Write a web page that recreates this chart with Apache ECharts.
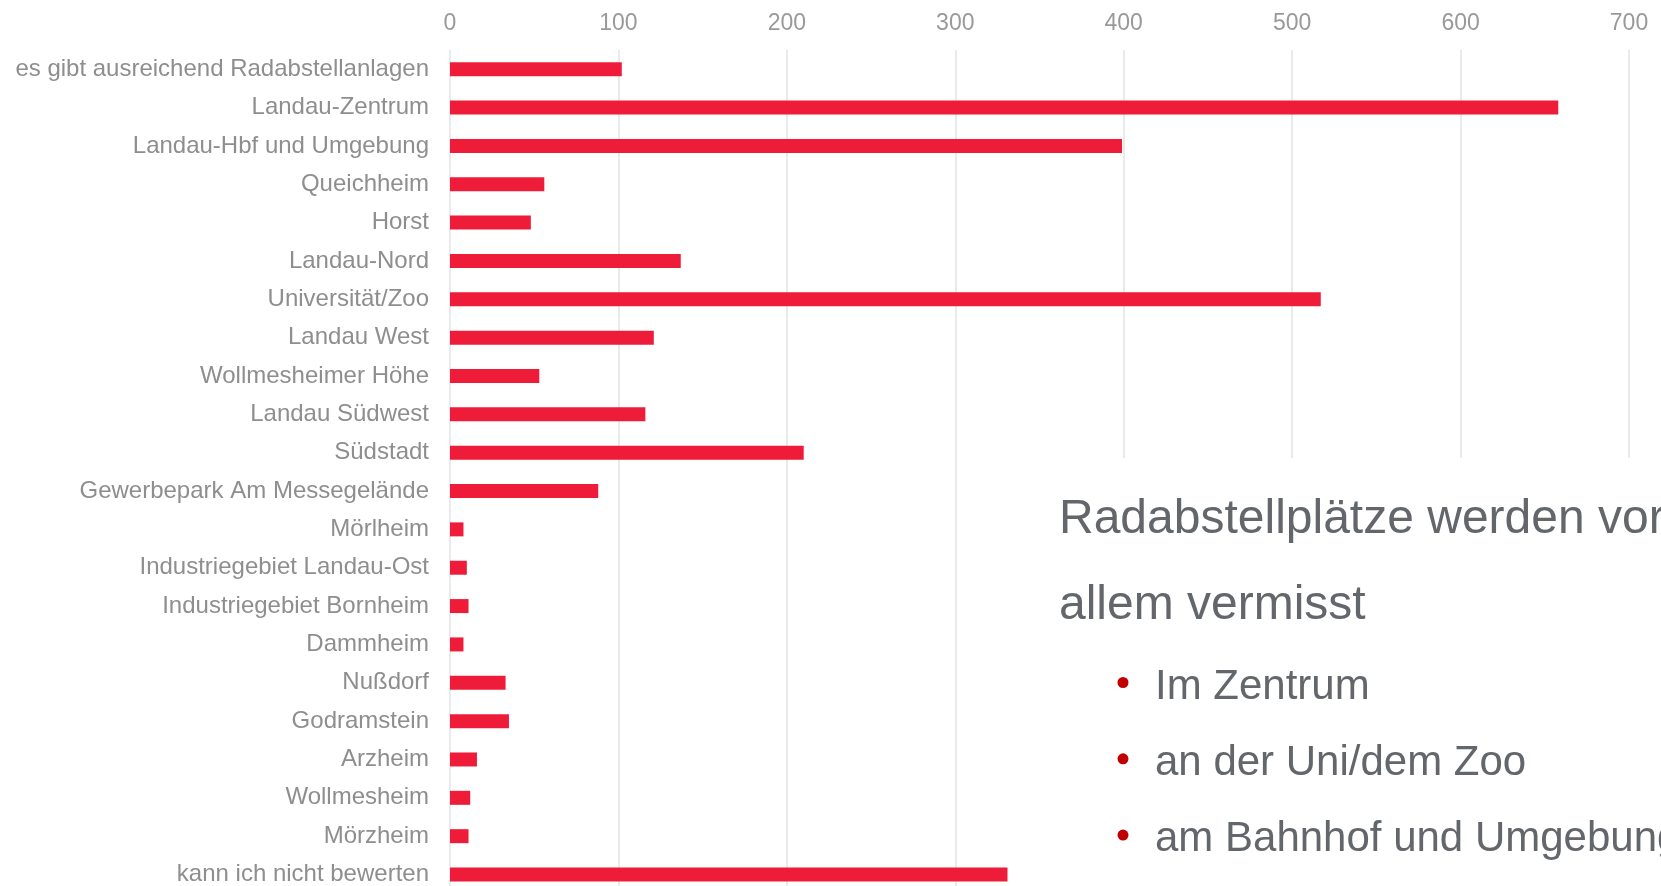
<!DOCTYPE html>
<html>
<head>
<meta charset="utf-8">
<script src="https://cdn.jsdelivr.net/npm/echarts@6/dist/echarts.min.js"></script>
<style>
  html, body { margin: 0; padding: 0; background: #fff; overflow: hidden; }
  #chart { width: 1661px; height: 900px; }
</style>
</head>
<body>
<div id="chart"></div>
<script>
// Kategorien (von oben nach unten)
var categories = [
    'es gibt ausreichend Radabstellanlagen', 'Landau-Zentrum', 'Landau-Hbf und Umgebung',
    'Queichheim', 'Horst', 'Landau-Nord', 'Universität/Zoo', 'Landau West',
    'Wollmesheimer Höhe', 'Landau Südwest', 'Südstadt', 'Gewerbepark Am Messegelände',
    'Mörlheim', 'Industriegebiet Landau-Ost', 'Industriegebiet Bornheim', 'Dammheim',
    'Nußdorf', 'Godramstein', 'Arzheim', 'Wollmesheim', 'Mörzheim', 'kann ich nicht bewerten'
];
// Anzahl Nennungen
var values = [102, 658, 399, 56, 48, 137, 517, 121, 53, 116, 210, 88, 8, 10, 11, 8, 33, 35, 16, 12, 11, 331];
var xTicks = [0, 100, 200, 300, 400, 500, 600, 700];

var headline = ['Radabstellplätze werden vor', 'allem vermisst'];
var bullets = ['Im Zentrum', 'an der Uni/dem Zoo', 'am Bahnhof und Umgebung'];

var font = '"Liberation Sans", Arial, sans-serif';

// div ist etwas hoeher als das Fenster, damit die letzte Zeile angeschnitten wird
var myChart = echarts.init(document.getElementById('chart'));

// Textfeld rechts unten (weisser Kasten verdeckt die Gitterlinien)
var graphics = [{
    type: 'rect', z: 100,
    shape: { x: 1040, y: 458, width: 700, height: 500 },
    style: { fill: '#ffffff' }
}];
headline.forEach(function (t, i) {
    graphics.push({
        type: 'text', z: 101, left: 1059, top: 496 + i * 85.8,
        style: { text: t, font: '48px ' + font, fill: '#63666a' }
    });
});
bullets.forEach(function (t, i) {
    graphics.push({
        type: 'circle', z: 101,
        shape: { cx: 1123, cy: 682.5 + i * 76.3, r: 5.5 },
        style: { fill: '#c00000' }
    });
    graphics.push({
        type: 'text', z: 101, left: 1155, top: 666 + i * 76.3,
        style: { text: t, font: '42px ' + font, fill: '#63666a' }
    });
});

var option = {
    animation: false,
    grid: { left: 450, right: 32, top: 50, height: 843.7 },
    xAxis: {
        type: 'value',
        position: 'top',
        min: xTicks[0],
        max: xTicks[xTicks.length - 1],
        interval: 100,
        axisLine: { show: false },
        axisTick: { show: false },
        axisLabel: { color: '#999999', fontSize: 23, fontFamily: font, margin: 15 },
        splitLine: { lineStyle: { color: '#e3e3e3', width: 1.5 } }
    },
    yAxis: {
        type: 'category',
        inverse: true,
        data: categories,
        axisLine: { show: false },
        axisTick: { show: false },
        axisLabel: { color: '#8e8e8e', fontSize: 24, fontFamily: font, margin: 21 }
    },
    series: [{
        type: 'bar',
        data: values,
        barWidth: 14,
        itemStyle: { color: '#ee1c39' }
    }],
    graphic: graphics
};

myChart.setOption(option);
</script>
</body>
</html>
